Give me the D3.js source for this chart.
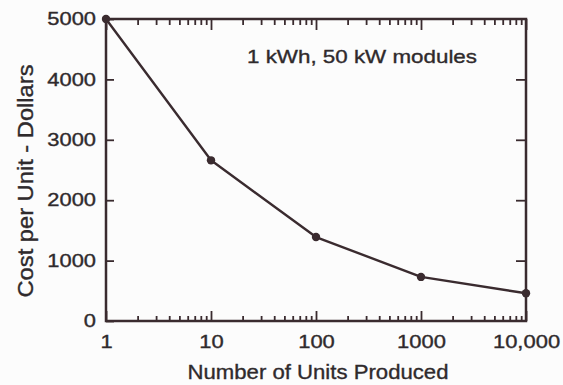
<!DOCTYPE html>
<html><head><meta charset="utf-8">
<script src="https://cdn.jsdelivr.net/npm/d3@7"></script>
<style>body{margin:0;background:#fcfcfc}svg{display:block}</style>
</head><body><svg id="c" width="563" height="385"></svg>
<script>
const units = [1, 10, 100, 1000, 10000];
const cost = [5000, 2660, 1390, 730, 460];
const xTickValues = [1, 10, 100, 1000, 10000];
const xTickLabels = ["1", "10", "100", "1000", "10,000"];
const yTickValues = [0, 1000, 2000, 3000, 4000, 5000];
const yTickLabels = ["0", "1000", "2000", "3000", "4000", "5000"];
const xTitle = "Number of Units Produced";
const yTitle = "Cost per Unit - Dollars";
const note = "1 kWh, 50 kW modules";

const ink = "#3a2b2f", txt = "#2f2a2c", font = "'Liberation Sans', Arial, sans-serif";
const L = 106, R = 526, T = 19, B = 321;
const svg = d3.select("#c");
svg.append("rect").attr("width", 563).attr("height", 385).attr("fill", "#fcfcfc");

const x = d3.scaleLog().domain([1, 10000]).range([L, R]);
const y = d3.scaleLinear().domain([0, 5000]).range([B, T]);

const minor = [];
[1, 10, 100, 1000].forEach(d => { for (let m = 2; m <= 9; m++) minor.push(d * m); });

function stretch(sel, k) {
  sel.each(function () {
    const l = this.getComputedTextLength();
    this.setAttribute("textLength", l * k);
    this.setAttribute("lengthAdjust", "spacingAndGlyphs");
  });
}
function styleAxis(g) {
  g.select(".domain").remove();
  g.selectAll(".tick line").attr("stroke", ink).attr("stroke-width", 1.8);
  g.selectAll(".tick text").attr("fill", txt).attr("stroke", txt).attr("stroke-width", 0.35).style("font-family", font);
}

// bottom major
const gb = svg.append("g").attr("transform", `translate(0,${B})`)
  .call(d3.axisBottom(x).tickValues(xTickValues).tickFormat((d, i) => xTickLabels[i]).tickSizeInner(-10).tickSizeOuter(0).tickPadding(14));
styleAxis(gb); gb.selectAll(".tick text").style("font-size", "18px");
stretch(gb.selectAll(".tick text"), 1.22);
// bottom minor
const gbm = svg.append("g").attr("transform", `translate(0,${B})`)
  .call(d3.axisBottom(x).tickValues(minor).tickFormat("").tickSizeInner(-5).tickSizeOuter(0));
styleAxis(gbm);
// top major
const gt = svg.append("g").attr("transform", `translate(0,${T})`)
  .call(d3.axisTop(x).tickValues(xTickValues).tickFormat("").tickSizeInner(-11).tickSizeOuter(0));
styleAxis(gt);
const gtm = svg.append("g").attr("transform", `translate(0,${T})`)
  .call(d3.axisTop(x).tickValues(minor).tickFormat("").tickSizeInner(-6).tickSizeOuter(0));
styleAxis(gtm);
// left
const gl = svg.append("g").attr("transform", `translate(${L},0)`)
  .call(d3.axisLeft(y).tickValues(yTickValues).tickFormat((d, i) => yTickLabels[i]).tickSizeInner(-8).tickSizeOuter(0).tickPadding(10));
styleAxis(gl); gl.selectAll(".tick text").style("font-size", "17.5px");
stretch(gl.selectAll(".tick text"), 1.25);
// right
const gr = svg.append("g").attr("transform", `translate(${R},0)`)
  .call(d3.axisRight(y).tickValues(yTickValues.slice(1, 5)).tickFormat("").tickSizeInner(-10).tickSizeOuter(0));
styleAxis(gr);

// frame
svg.append("rect").attr("x", L).attr("y", T).attr("width", R - L).attr("height", B - T)
  .attr("fill", "none").attr("stroke", ink).attr("stroke-width", 2.5);

// data
const pts = units.map((u, i) => [u, cost[i]]);
svg.append("path").datum(pts)
  .attr("d", d3.line().x(d => x(d[0])).y(d => y(d[1])))
  .attr("fill", "none").attr("stroke", ink).attr("stroke-width", 2.4).attr("stroke-linejoin", "round");
svg.selectAll("circle.pt").data(pts).join("circle").attr("class", "pt")
  .attr("cx", d => x(d[0])).attr("cy", d => y(d[1])).attr("r", 4.2).attr("fill", ink);

// titles
const xt = svg.append("text").attr("x", (L + R) / 2 + 2).attr("y", 379).attr("text-anchor", "middle")
  .attr("fill", txt).attr("stroke", txt).attr("stroke-width", 0.35)
  .style("font-family", font).style("font-size", "20.5px").text(xTitle);
xt.attr("textLength", 261).attr("lengthAdjust", "spacingAndGlyphs");
const yt = svg.append("text").attr("transform", "translate(33,181) rotate(-90)").attr("text-anchor", "middle")
  .attr("fill", txt).attr("stroke", txt).attr("stroke-width", 0.35)
  .style("font-family", font).style("font-size", "22px").text(yTitle);
yt.attr("textLength", 233).attr("lengthAdjust", "spacingAndGlyphs");
const nt = svg.append("text").attr("x", 247).attr("y", 63)
  .attr("fill", txt).attr("stroke", txt).attr("stroke-width", 0.35)
  .style("font-family", font).style("font-size", "18.5px").text(note);
nt.attr("textLength", 230).attr("lengthAdjust", "spacingAndGlyphs");
</script></body></html>
